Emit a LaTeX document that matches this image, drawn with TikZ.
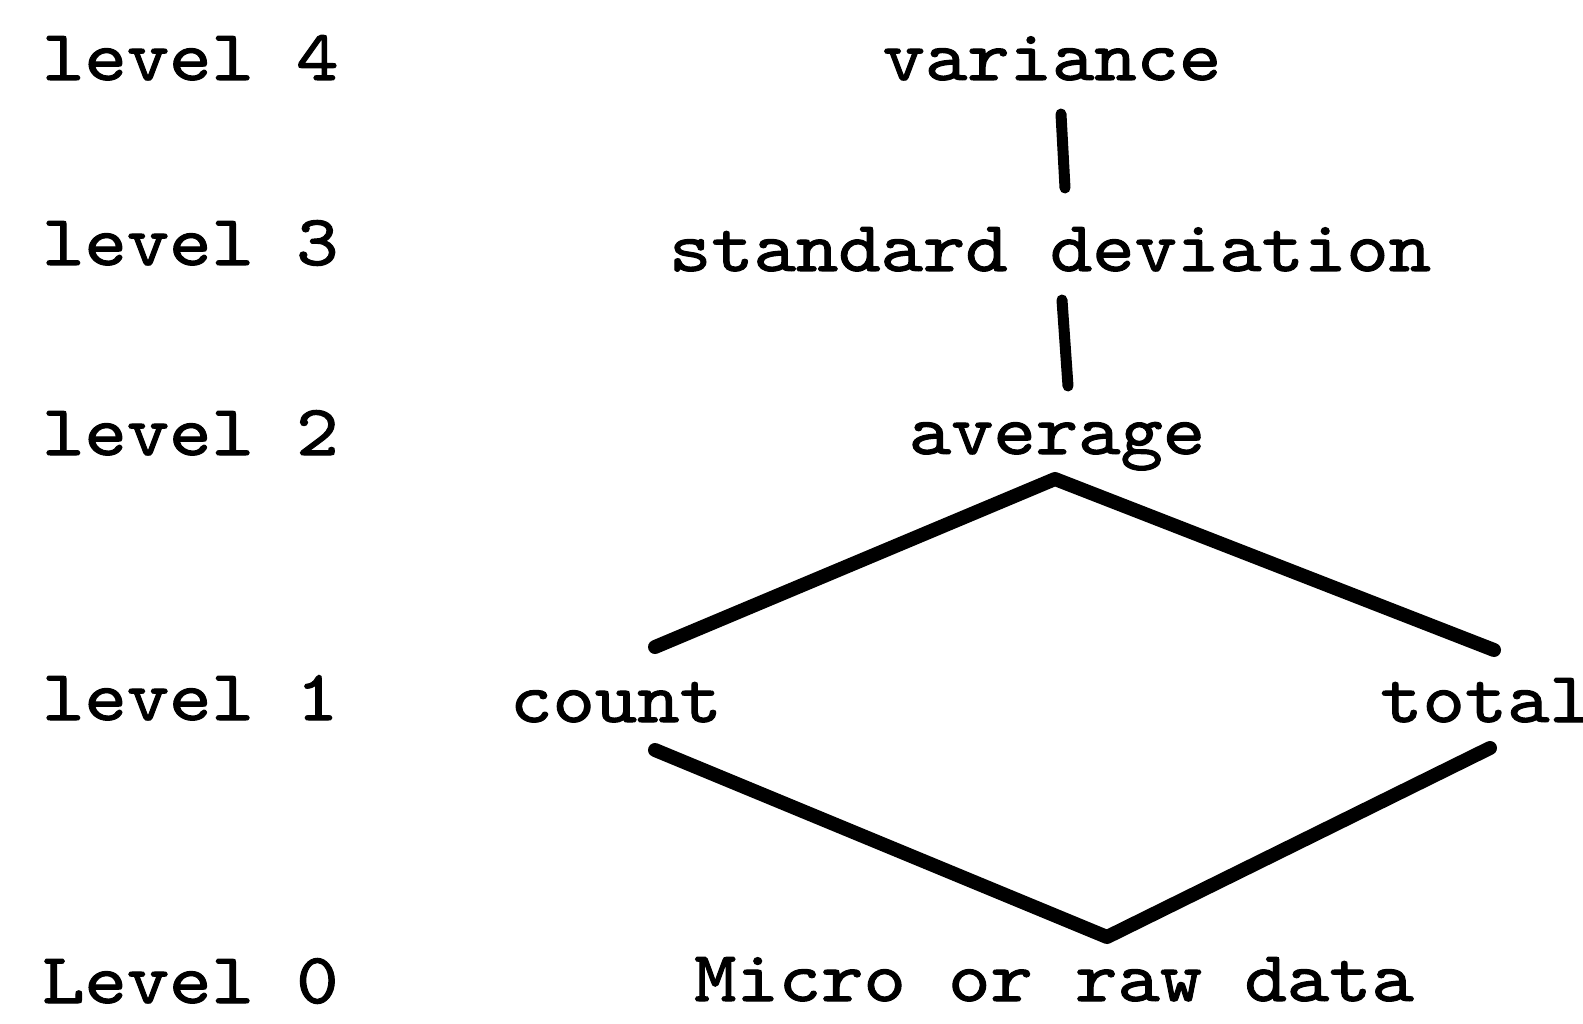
\documentclass[tikz,border=0pt]{standalone}
\usepackage{fontspec}
\newfontfamily\typewriter{lmmono10-regular.otf}[FakeBold=1.4, FakeStretch=1.12]
\begin{document}
\begin{tikzpicture}[x=1pt,y=-1pt,
  lbl/.style={font=\typewriter\fontsize{72}{80}\selectfont, inner sep=0pt},
  link/.style={line width=14pt, line cap=round, line join=round, black},
  stem/.style={line width=11pt, line cap=round, black}]
\useasboundingbox (0,0) rectangle (1583,1024);
\clip (0,0) rectangle (1583,1024);

% level labels in the left column
\node[lbl, anchor=base west] (l4) at (42,80) {level 4};
\node[lbl, anchor=base west] (l3) at (42,265) {level 3};
\node[lbl, anchor=base west] (l2) at (42,455) {level 2};
\node[lbl, anchor=base west] (l1) at (42,720) {level 1};
\node[lbl, anchor=base west] (l0) at (42,1003) {Level 0};

% measures
\node[lbl, anchor=base] (var) at (1052,80) {variance};
\node[lbl, anchor=base] (sd)  at (1050,271) {standard deviation};
\node[lbl, anchor=base] (avg) at (1057,454) {average};
\node[lbl, anchor=base west] (cnt) at (510,722) {count};
\node[lbl, anchor=base west] (tot) at (1380,722) {total};
\node[lbl, anchor=base] (raw) at (1054,1001) {Micro or raw data};

% connector end points
\coordinate (varB) at (1061,114);
\coordinate (sdT)  at (1065,188);
\coordinate (sdB)  at (1062,300);
\coordinate (avgT) at (1068,386);
\coordinate (apex) at (1055,479);
\coordinate (cntT) at (655,647);
\coordinate (totT) at (1494,650);
\coordinate (cntB) at (655,750);
\coordinate (totB) at (1490,748);
\coordinate (base) at (1107,937);

\draw[stem] (varB) -- (sdT);
\draw[stem] (sdB) -- (avgT);
\draw[link] (cntT) -- (apex) -- (totT);
\draw[link] (cntB) -- (base) -- (totB);
\end{tikzpicture}
\end{document}
